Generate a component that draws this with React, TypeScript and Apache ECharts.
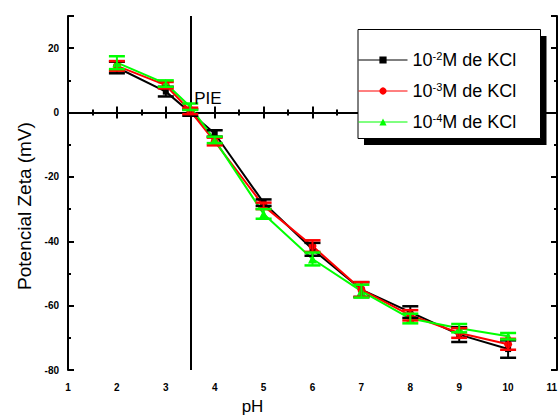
import React, { useEffect, useRef } from "react";
import * as echarts from "echarts";

const pH = [2, 3, 3.5, 4, 5, 6, 7, 8, 9, 10];
const zetaA = [14, 6.5, 0, -6.5, -28, -42.5, -55, -62, -69, -73.5];
const errA = [1.8, 1.5, 1, 1, 1, 2, 2.3, 1.8, 2.3, 2.7];
const zetaB = [14.5, 8.5, 0.5, -9, -29, -41.5, -55, -63, -68.5, -72];
const errB = [1.5, 1, 1, 1.2, 1, 1.8, 2.3, 1.6, 1.5, 1.7];
const zetaC = [15.5, 9, 1.8, -8.5, -31.5, -45.5, -55.5, -64, -67, -69.5];
const errC = [2, 1, 1, 1, 1.5, 2, 2, 1.5, 1.3, 1];
const exps = ["-2", "-3", "-4"];
const names = exps.map((e) => `10${e}M de KCl`);
const colors = ["#000000", "#ff0000", "#00ff00"];
const symbols = ["rect", "circle", "triangle"];
const symbolSizes = [6, 8, 9];
const xTicks = { min: 1, max: 11, interval: 1 };
const yTicks = { min: -80, max: 30, interval: 20 };

const FONT = "'Liberation Sans', Arial, sans-serif";

export default function App() {
  const ref = useRef<HTMLDivElement>(null);
  useEffect(() => {
    if (!ref.current) return;
    const chart = echarts.init(ref.current, undefined, { renderer: "svg" });
    const values = [zetaA, zetaB, zetaC];
    const errs = [errA, errB, errC];
    const series: any[] = [];
    values.forEach((vals, k) => {
      const line: any = {
        type: "line",
        name: names[k],
        data: pH.map((x, i) => [x, vals[i]]),
        symbol: symbols[k],
        symbolSize: symbolSizes[k],
        showAllSymbol: true,
        lineStyle: { color: colors[k], width: 2 },
        itemStyle: { color: colors[k] },
        z: 3,
      };
      if (k === 0) {
        line.markLine = {
          silent: true,
          symbol: ["none", "none"],
          label: { show: false },
          lineStyle: { color: "#000", width: 2, type: "solid" },
          data: [{ xAxis: 3.5 }, { yAxis: 0 }],
          z: 2,
        };
        line.markPoint = {
          symbol: "circle",
          symbolSize: 0,
          silent: true,
          data: [{ coord: [3.5, 0] }],
          label: {
            show: true,
            formatter: "PIE",
            position: [4, -23],
            color: "#000",
            fontSize: 17,
            fontFamily: FONT,
            align: "left",
            verticalAlign: "top",
          },
        };
      }
      series.push(line);
      series.push({
        type: "custom",
        name: "err" + k,
        data: pH.map((x, i) => [x, vals[i] - errs[k][i], vals[i] + errs[k][i]]),
        encode: { x: 0, y: [1, 2] },
        z: 4,
        renderItem: (params: any, api: any) => {
          const x = api.value(0);
          const p1 = api.coord([x, api.value(2)]);
          const p2 = api.coord([x, api.value(1)]);
          const w = 8;
          const st = { stroke: colors[k], lineWidth: 2 };
          const cap = { stroke: colors[k], lineWidth: 2.5 };
          return {
            type: "group",
            children: [
              { type: "line", shape: { x1: p1[0], y1: p1[1], x2: p2[0], y2: p2[1] }, style: st },
              { type: "line", shape: { x1: p1[0] - w, y1: p1[1], x2: p1[0] + w, y2: p1[1] }, style: cap },
              { type: "line", shape: { x1: p2[0] - w, y1: p2[1], x2: p2[0] + w, y2: p2[1] }, style: cap },
            ],
          };
        },
      });
    });

    const axisCommon = {
      type: "value",
      axisLine: { show: true, lineStyle: { color: "#000", width: 2 } },
      splitLine: { show: false },
    };
    const labelStyle = {
      color: "#000",
      fontSize: 10,
      fontWeight: "bold",
      fontFamily: FONT,
    };

    const option: any = {
      animation: false,
      backgroundColor: "#ffffff",
      grid: { left: 68, right: 1, top: 16, bottom: 50, containLabel: false, outerBoundsMode: "none" },
      xAxis: [
        {
          ...axisCommon,
          ...xTicks,
          position: "bottom",
          name: "pH",
          nameLocation: "middle",
          nameGap: 28,
          nameTextStyle: { color: "#000", fontSize: 17, fontFamily: FONT, padding: [0, 120, 0, 0] },
          axisTick: { show: true, inside: true, length: 6, lineStyle: { color: "#000", width: 2 } },
          minorTick: { show: true, splitNumber: 2, length: 3, lineStyle: { color: "#000", width: 2 } },
          axisLabel: {
            ...labelStyle,
            margin: 12,
            showMinLabel: true,
            showMaxLabel: true,
            alignMaxLabel: "right",
          },
        },
        {
          ...axisCommon,
          ...xTicks,
          position: "top",
          axisTick: { show: true, inside: true, length: 6, lineStyle: { color: "#000", width: 2 } },
          minorTick: { show: true, splitNumber: 2, length: 3, lineStyle: { color: "#000", width: 2 } },
          axisLabel: { show: false },
        },
      ],
      yAxis: [
        {
          ...axisCommon,
          ...yTicks,
          position: "left",
          name: "Potencial Zeta (mV)",
          nameLocation: "middle",
          nameGap: 34,
          nameRotate: 90,
          nameTextStyle: { color: "#000", fontSize: 19, fontFamily: FONT, padding: [0, 26, 0, 0] },
          axisTick: { show: true, inside: true, length: 6, lineStyle: { color: "#000", width: 2 } },
          axisLabel: {
            ...labelStyle,
            margin: 9,
            formatter: (v: number) => (v === yTicks.max ? "" : String(v)),
          },
        },
        {
          ...axisCommon,
          ...yTicks,
          interval: 10,
          position: "left",
          axisLine: { show: false },
          axisTick: { show: true, inside: true, length: 3, lineStyle: { color: "#000", width: 2 } },
          axisLabel: { show: false },
        },
        {
          ...axisCommon,
          ...yTicks,
          position: "right",
          axisTick: { show: true, inside: true, length: 6, lineStyle: { color: "#000", width: 2 } },
          axisLabel: { show: false },
        },
        {
          ...axisCommon,
          ...yTicks,
          interval: 10,
          position: "right",
          axisLine: { show: false },
          axisTick: { show: true, inside: true, length: 3, lineStyle: { color: "#000", width: 2 } },
          axisLabel: { show: false },
        },
      ],
      legend: {
        data: names,
        orient: "vertical",
        left: 358,
        top: 50,
        padding: 0,
        itemGap: 12,
        itemWidth: 49,
        itemHeight: 9,
        selectedMode: false,
        z: 60,
        lineStyle: { width: 1 },
        formatter: (name: string) => {
          const i = names.indexOf(name);
          return `{b|10}{s|${exps[i]}}{b|M de KCl}`;
        },
        textStyle: {
          color: "#000",
          fontFamily: FONT,
          rich: {
            b: { fontSize: 18, lineHeight: 20, color: "#000", fontFamily: FONT },
            s: { fontSize: 11, lineHeight: 20, verticalAlign: "top", color: "#000", fontFamily: FONT },
          },
        },
      },
      graphic: [
        {
          type: "rect",
          z: 50,
          shape: { x: 364, y: 36, width: 182.5, height: 109 },
          style: { fill: "#000" },
          silent: true,
        },
        {
          type: "rect",
          z: 51,
          shape: { x: 358, y: 29.5, width: 182.5, height: 109 },
          style: { fill: "#fff", stroke: "#000", lineWidth: 1 },
          silent: true,
        },
      ],
      series,
    };
    chart.setOption(option);
    return () => chart.dispose();
  }, []);
  return (
    <div
      ref={ref}
      style={{ position: "fixed", left: 0, top: 0, width: 558, height: 420, background: "#fff" }}
    />
  );
}
